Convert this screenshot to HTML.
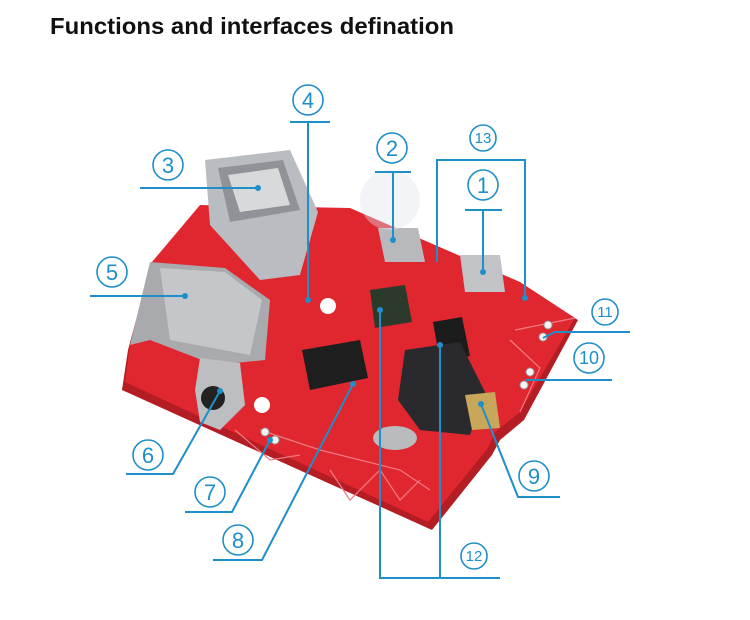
<!DOCTYPE html>
<html><head><meta charset="utf-8"><style>
html,body{margin:0;padding:0;background:#fff;width:750px;height:620px;overflow:hidden}
</style></head><body>
<svg width="750" height="620" viewBox="0 0 750 620" xmlns="http://www.w3.org/2000/svg" font-family="Liberation Sans, sans-serif">
<rect width="750" height="620" fill="#fff"/>
<text x="50" y="34" font-size="23.5" font-weight="bold" fill="#111" textLength="404" lengthAdjust="spacingAndGlyphs">Functions and interfaces defination</text>

<!-- board shadow edge -->
<polygon points="200,208 350,212 520,285 578,320 524,420 500,440 492,455 432,530 122,390 128,350 150,268" fill="#b51d25"/>
<!-- board -->
<polygon points="200,205 350,208 520,282 575,318 520,412 495,432 488,448 428,522 125,382 130,345 152,262" fill="#e0262f"/>
<g stroke="#f07a80" stroke-width="1.2" fill="none">
<polyline points="515,330 575,318"/>
<polyline points="510,340 540,368 520,412"/>
<polyline points="260,430 320,450 400,470 430,490"/>
<polyline points="330,470 350,500 380,470 400,500 420,480"/>
<polyline points="235,430 270,460 300,455"/>
</g>
<!-- USB-A -->
<polygon points="205,160 290,150 318,212 300,275 260,280 210,225" fill="#b9bcc0"/>
<polygon points="218,168 283,160 300,210 230,222" fill="#8f9296"/>
<polygon points="228,175 278,168 290,205 240,212" fill="#d8d9db"/>
<!-- SD card -->
<polygon points="150,262 225,268 270,300 265,360 215,365 150,340 130,345" fill="#a8aaae"/>
<polygon points="160,268 225,272 262,300 250,355 170,340" fill="#c4c6c9"/>
<!-- IR receiver -->
<polygon points="200,358 240,363 245,405 220,430 200,422 195,390" fill="#bcbec2"/>
<circle cx="213" cy="398" r="12" fill="#222"/>
<!-- micro USB 2 -->
<polygon points="378,228 418,228 425,262 385,262" fill="#b7b9bd"/>
<circle cx="390" cy="200" r="30" fill="#dfe3ea" opacity="0.4"/>
<!-- micro USB 1 -->
<polygon points="460,255 500,255 505,292 465,292" fill="#c1c3c6"/>
<!-- chips -->
<polygon points="370,290 405,285 412,322 375,328" fill="#2c3a2c"/>
<polygon points="433,322 462,317 470,356 440,362" fill="#1c1c1c"/>
<polygon points="302,350 360,340 368,378 310,390" fill="#1e1e1e"/>
<!-- audio jack -->
<polygon points="405,350 460,342 485,392 470,435 420,430 398,400" fill="#2a2a2e"/>
<polygon points="465,395 495,392 500,428 472,430" fill="#c9a75a"/>
<ellipse cx="395" cy="438" rx="22" ry="12" fill="#b9bbbe"/>
<circle cx="328" cy="306" r="8" fill="#fff"/>
<circle cx="262" cy="405" r="8" fill="#fff"/>
<g fill="#f3f3f3" stroke="#999"><circle cx="548" cy="325" r="4"/><circle cx="543" cy="337" r="4"/><circle cx="530" cy="372" r="4"/><circle cx="524" cy="385" r="4"/><circle cx="265" cy="432" r="4"/><circle cx="275" cy="440" r="4"/></g>

<g stroke="#1e8fc8" stroke-width="2" fill="none">
<polyline points="290,122 330,122"/><polyline points="308,122 308,300"/>
<polyline points="375,172 411,172"/><polyline points="393,172 393,240"/>
<polyline points="437,262 437,160 525,160 525,298"/>
<polyline points="465,210 502,210"/><polyline points="483,210 483,272"/>
<polyline points="140,188 258,188"/>
<polyline points="90,296 185,296"/>
<polyline points="543,338 555,332 630,332"/>
<polyline points="525,380 612,380"/>
<polyline points="481,404 518,497 560,497"/>
<polyline points="220,391 173,474 126,474"/>
<polyline points="270,440 232,512 185,512"/>
<polyline points="353,384 262,560 213,560"/>
<polyline points="380,310 380,578 500,578"/><polyline points="440,345 440,578"/>
</g>
<g fill="#1e8fc8"><circle cx="308" cy="300" r="3"/><circle cx="393" cy="240" r="3"/><circle cx="483" cy="272" r="3"/><circle cx="258" cy="188" r="3"/><circle cx="185" cy="296" r="3"/><circle cx="525" cy="298" r="3"/><circle cx="481" cy="404" r="3"/><circle cx="220" cy="391" r="3"/><circle cx="270" cy="440" r="3"/><circle cx="353" cy="384" r="3"/><circle cx="380" cy="310" r="3"/><circle cx="440" cy="345" r="3"/></g>

<g stroke="#1e8fc8" stroke-width="1.6" fill="#fff">
<circle cx="308" cy="100" r="15"/><circle cx="392" cy="148" r="15"/><circle cx="483" cy="138" r="13"/><circle cx="483" cy="185" r="15"/>
<circle cx="168" cy="165" r="15"/><circle cx="112" cy="272" r="15"/><circle cx="605" cy="312" r="13"/><circle cx="589" cy="358" r="15"/>
<circle cx="534" cy="476" r="15"/><circle cx="148" cy="455" r="15"/><circle cx="210" cy="492" r="15"/><circle cx="238" cy="540" r="15"/><circle cx="474" cy="556" r="13"/>
</g>
<g fill="#1e8fc8" font-size="22" text-anchor="middle">
<text x="308" y="108">4</text><text x="392" y="156">2</text><text x="483" y="193">1</text>
<text x="168" y="173">3</text><text x="112" y="280">5</text><text x="534" y="484">9</text>
<text x="148" y="463">6</text><text x="210" y="500">7</text><text x="238" y="548">8</text>
</g>
<g fill="#1e8fc8" font-size="15" text-anchor="middle">
<text x="483" y="143">13</text><text x="605" y="317">11</text><text x="589" y="364" font-size="18">10</text><text x="474" y="561">12</text>
</g>
</svg>
</body></html>
